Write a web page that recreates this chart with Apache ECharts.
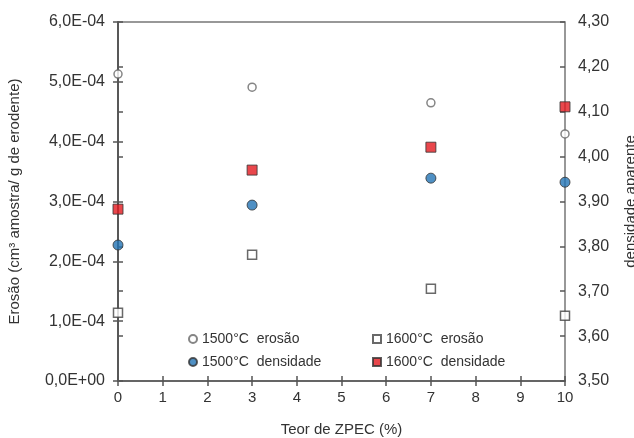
<!DOCTYPE html>
<html>
<head>
<meta charset="utf-8">
<script src="https://cdn.jsdelivr.net/npm/echarts@6/dist/echarts.min.js"></script>
<style>
  html, body { margin: 0; padding: 0; background: #fff; }
  #chart { width: 634px; height: 438px; }
</style>
</head>
<body>
<div id="chart"></div>
<script>
  // ZPEC content (%)
  const teorZpec = [0, 3, 7, 10]
  // erosion (cm3 sample / g erodent)
  const erosao1500 = [5.13e-4, 4.91e-4, 4.65e-4, 4.13e-4]
  const erosao1600 = [1.14e-4, 2.11e-4, 1.54e-4, 1.09e-4]
  // apparent density
  const densidade1500 = [3.803, 3.892, 3.952, 3.943]
  const densidade1600 = [3.883, 3.970, 4.021, 4.111]

  const nomes = ['1500°C  erosão', '1600°C  erosão', '1500°C  densidade', '1600°C  densidade']

  function pares(ys) {
    return teorZpec.map((x, i) => [x, ys[i]])
  }

  function fmtErosao(v) {
    if (Math.abs(v) < 1e-12) return '0,0E+00'
    const m = Math.round(v * 1e5) / 10
    return m.toFixed(1).replace('.', ',') + 'E-04'
  }

  const txt = '#333'
  const eixo = '#555'
  const fonte = 'Liberation Sans, Arial, sans-serif'

  const chart = echarts.init(document.getElementById('chart'), null, { renderer: 'canvas' })

  const yBase = {
    type: 'value',
    splitLine: { show: false },
    axisLine: { show: true, lineStyle: { color: eixo, width: 1.5 } },
    axisTick: { show: true, length: 5, lineStyle: { color: eixo, width: 1.5 } }
  }

  function legenda(nome, left, top) {
    return {
      data: [nome],
      left: left,
      top: top,
      itemWidth: 8,
      itemHeight: 8,
      itemGap: 0,
      selectedMode: false,
      textStyle: { fontSize: 14, color: txt, fontFamily: fonte }
    }
  }

  chart.setOption({
    animation: false,
    grid: {
      left: 118, right: 69, top: 22, bottom: 57,
      outerBoundsMode: 'none',
      show: true, borderColor: '#777', borderWidth: 1.5
    },
    legend: [
      legenda(nomes[0], 183, 327),
      legenda(nomes[1], 367, 327),
      legenda(nomes[2], 183, 350),
      legenda(nomes[3], 367, 350)
    ],
    xAxis: [{
      type: 'value', min: 0, max: 10, interval: 1,
      name: 'Teor de ZPEC (%)', nameLocation: 'middle', nameGap: 41,
      nameTextStyle: { fontSize: 15, color: txt, fontFamily: fonte },
      splitLine: { show: false },
      axisLine: { lineStyle: { color: eixo, width: 1.5 } },
      axisTick: { length: 5, lineStyle: { color: eixo, width: 1.5 } },
      axisLabel: { fontSize: 15, color: txt, fontFamily: fonte, margin: 9 }
    }, {
      type: 'value', min: 0, max: 10, interval: 1, position: 'bottom',
      splitLine: { show: false },
      axisLine: { show: false },
      axisTick: { inside: true, length: 5, lineStyle: { color: eixo, width: 1.5 } },
      axisLabel: { show: false }
    }],
    yAxis: [Object.assign({}, yBase, {
      min: 0, max: 6e-4, interval: 1e-4, position: 'left',
      name: 'Erosão (cm³ amostra/ g de erodente)', nameLocation: 'middle', nameGap: 96,
      nameTextStyle: { fontSize: 15, color: txt, fontFamily: fonte },
      axisLabel: { fontSize: 16, color: txt, fontFamily: fonte, margin: 13, formatter: fmtErosao }
    }), Object.assign({}, yBase, {
      min: 3.5, max: 4.3, interval: 0.1, position: 'right',
      name: 'densidade aparente', nameLocation: 'middle', nameGap: 58,
      nameTextStyle: { fontSize: 15, color: txt, fontFamily: fonte },
      axisLabel: { fontSize: 16, color: txt, fontFamily: fonte, margin: 13,
        formatter: v => v.toFixed(2).replace('.', ',') }
    }), Object.assign({}, yBase, {
      min: 0, max: 6e-4, interval: 1e-4, position: 'left',
      axisLine: { show: false },
      axisTick: { inside: true, length: 5, lineStyle: { color: eixo, width: 1.5 } },
      axisLabel: { show: false }
    }), Object.assign({}, yBase, {
      min: 3.5, max: 4.3, interval: 0.1, position: 'right',
      axisLine: { show: false },
      axisTick: { inside: true, length: 5, lineStyle: { color: eixo, width: 1.5 } },
      axisLabel: { show: false }
    })],
    series: [{
      name: nomes[0], type: 'scatter', yAxisIndex: 0,
      symbol: 'circle', symbolSize: 8,
      itemStyle: { color: '#fff', borderColor: '#666', borderWidth: 1.5 },
      data: pares(erosao1500)
    }, {
      name: nomes[1], type: 'scatter', yAxisIndex: 0,
      symbol: 'rect', symbolSize: 9,
      itemStyle: { color: '#fff', borderColor: '#444', borderWidth: 1.5 },
      data: pares(erosao1600)
    }, {
      name: nomes[2], type: 'scatter', yAxisIndex: 1,
      symbol: 'circle', symbolSize: 10,
      itemStyle: { color: '#2374b5', borderColor: '#333', borderWidth: 1 },
      data: pares(densidade1500)
    }, {
      name: nomes[3], type: 'scatter', yAxisIndex: 1,
      symbol: 'rect', symbolSize: 10,
      itemStyle: { color: '#e3191f', borderColor: '#333', borderWidth: 1 },
      data: pares(densidade1600)
    }]
  })
</script>
</body>
</html>
